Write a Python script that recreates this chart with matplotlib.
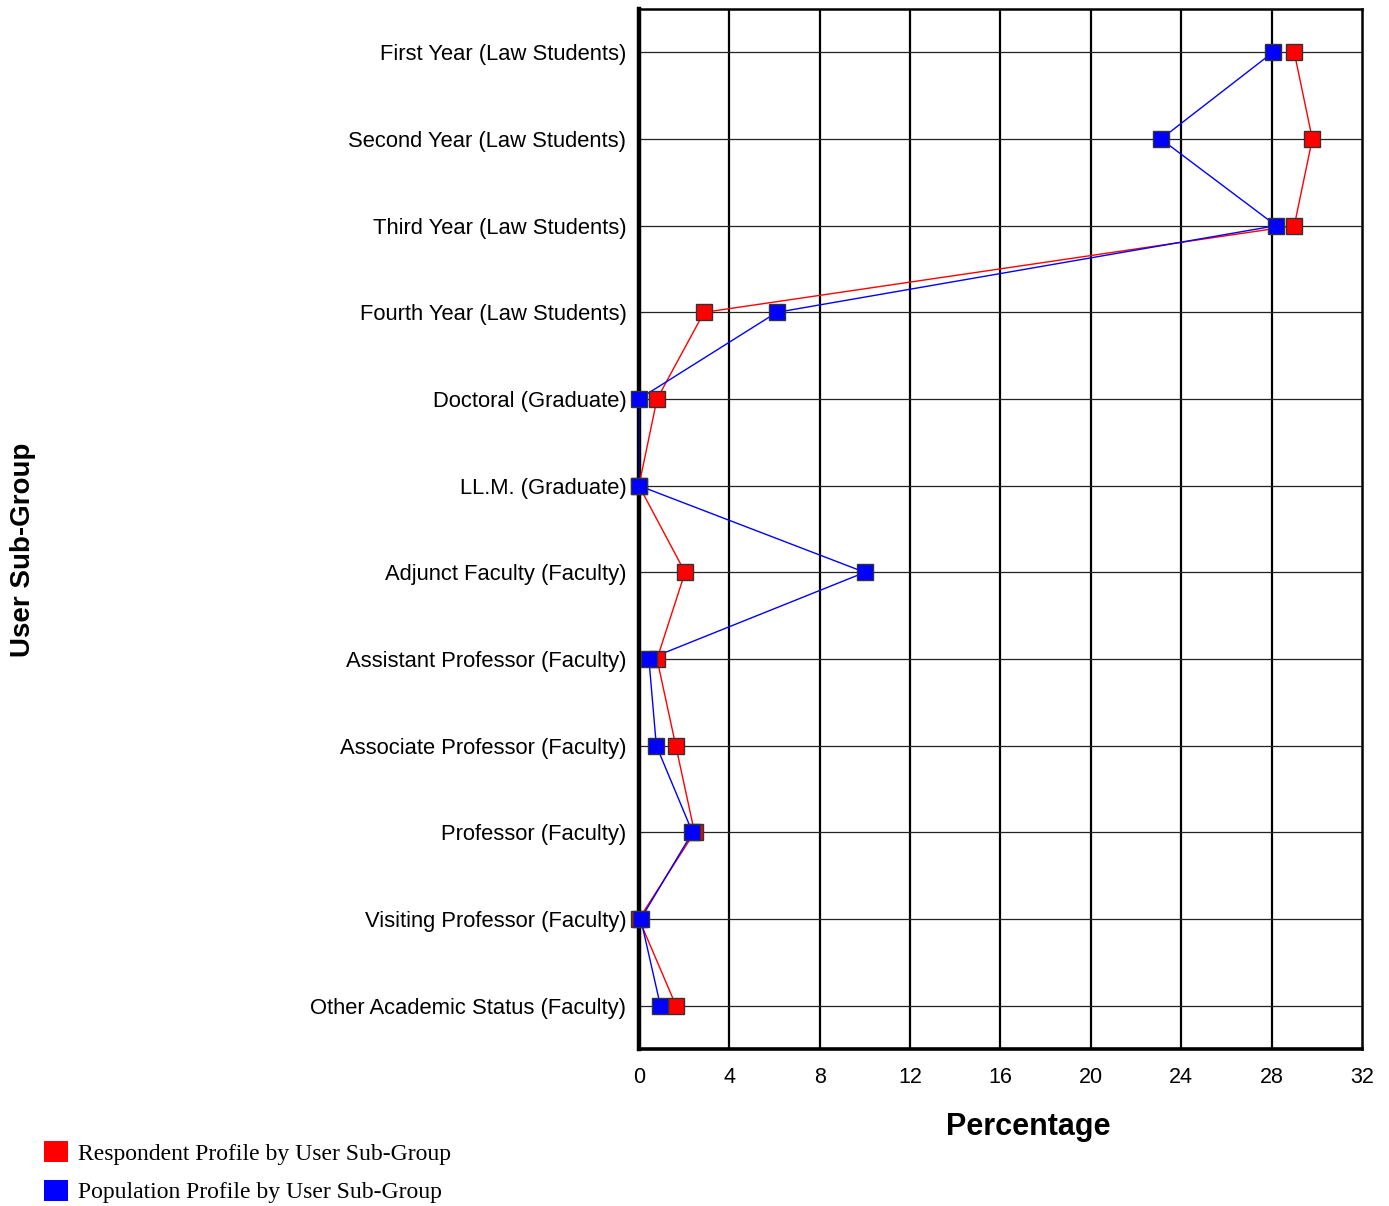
import matplotlib
matplotlib.use('Agg')
from matplotlib import pyplot as plt
from matplotlib.patches import Patch

# Daten
categories = [
    'First Year (Law Students)',
    'Second Year (Law Students)',
    'Third Year (Law Students)',
    'Fourth Year (Law Students)',
    'Doctoral (Graduate)',
    'LL.M. (Graduate)',
    'Adjunct Faculty (Faculty)',
    'Assistant Professor (Faculty)',
    'Associate Professor (Faculty)',
    'Professor (Faculty)',
    'Visiting Professor (Faculty)',
    'Other Academic Status (Faculty)',
]
respondent = [29.0, 29.8, 29.0, 2.88, 0.8, 0.0, 2.04, 0.8, 1.63, 2.46, 0.0, 1.64]
population = [28.05, 23.1, 28.2, 6.1, 0.0, 0.0, 10.0, 0.44, 0.77, 2.37, 0.08, 0.95]
xticks = [0, 4, 8, 12, 16, 20, 24, 28, 32]

plt.rcParams['font.family'] = ['Liberation Sans', 'DejaVu Sans']

fig = plt.figure(figsize=(13.89, 12.06), dpi=100)
ax = fig.add_axes([0.46, 0.1302, 0.5206, 0.8623])

y = list(range(len(categories)))

# Linien
ax.plot(respondent, y, color='#ff0000', lw=1, zorder=3)
ax.plot(population, y, color='#0000ff', lw=1, zorder=4)
# Marker
ax.plot(respondent, y, ls='none', marker='s', ms=11.5, mfc='#ff0000',
        mec='#333333', mew=1, zorder=5, clip_on=False)
ax.plot(population, y, ls='none', marker='s', ms=11.5, mfc='#0000ff',
        mec='#333333', mew=1, zorder=6, clip_on=False)

ax.set_xlim(0, 32)
ax.set_ylim(len(categories) - 0.5, -0.5)
ax.set_xticks(xticks)
ax.set_xticklabels([str(t) for t in xticks], fontsize=15.5)
ax.set_yticks(y)
ax.set_yticklabels(categories, fontsize=15.8)
ax.tick_params(axis='both', length=0)
ax.tick_params(axis='x', pad=13)
ax.tick_params(axis='y', pad=9)

for t in xticks[1:-1]:
    ax.axvline(t, color='black', lw=1.6, zorder=1)
for yy in y:
    ax.axhline(yy, color='#222222', lw=0.9, zorder=1)

ax.spines['left'].set_linewidth(3.2)
ax.spines['bottom'].set_linewidth(2.6)
ax.spines['top'].set_linewidth(1.8)
ax.spines['right'].set_linewidth(1.8)

fig.text(1028 / 1389, 1 - 1127 / 1206, 'Percentage', fontsize=22,
         fontweight='bold', ha='center', va='center')
fig.text(23 / 1389, 1 - 550 / 1206, 'User Sub-Group', fontsize=20,
         fontweight='bold', ha='center', va='center', rotation=90)

# Legende
handles = [Patch(facecolor='#ff0000', edgecolor='none'),
           Patch(facecolor='#0000ff', edgecolor='none')]
labels = ['Respondent Profile by User Sub-Group', 'Population Profile by User Sub-Group']
fig.legend(handles, labels, loc='upper left',
           bbox_to_anchor=(44 / 1389, 1 - 1141 / 1206), frameon=False,
           prop={'family': 'Liberation Serif', 'size': 17},
           handlelength=1.0, handleheight=1.0, handletextpad=0.45,
           labelspacing=0.64, borderpad=0, borderaxespad=0)

fig.savefig('out.png', dpi=100)
